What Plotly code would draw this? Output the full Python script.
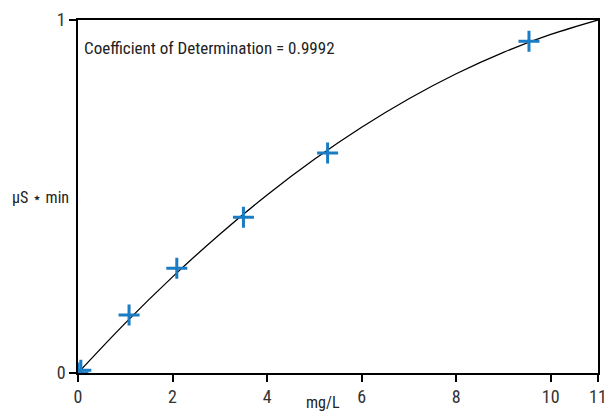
import plotly.graph_objects as go

# calibration points
conc = [0.0, 0.06, 1.08, 2.09, 3.50, 5.28, 9.54]
area = [0.0, 0.008, 0.164, 0.297, 0.441, 0.623, 0.940]

# fitted calibration curve
curve_x = [0, 1, 2, 3, 4, 5, 6, 7, 8, 9, 10, 11]
curve_y = [0.0, 0.1412, 0.2723, 0.3933, 0.5043, 0.6053, 0.6961, 0.7769, 0.8477, 0.9084, 0.9590, 1.0]

x_ticks = [0, 2, 4, 6, 8, 10, 11]
y_ticks = [0, 1]

FONT = "Liberation Sans Narrow, Roboto Condensed, Roboto, sans-serif"

fig = go.Figure()
fig.add_trace(go.Scatter(x=curve_x, y=curve_y, mode="lines",
                         line=dict(color="black", width=1.3, shape="spline"),
                         hoverinfo="skip", showlegend=False))
fig.add_trace(go.Scatter(x=conc, y=area, mode="markers",
                         marker=dict(symbol="cross-thin", size=15,
                                     line=dict(color="#1a7cc3", width=3)),
                         showlegend=False))

axis_common = dict(showgrid=False, zeroline=False, showline=True, linecolor="black",
                   linewidth=1.5, mirror=True, ticks="outside", ticklen=7,
                   tickcolor="black", tickwidth=1.5, automargin=False,
                   ticklabeloverflow="allow",
                   tickfont=dict(family=FONT, size=18, color="#333"))

fig.update_xaxes(range=[0, 11], tickvals=x_ticks, ticktext=[str(v) for v in x_ticks],
                 **axis_common)
fig.update_yaxes(range=[0, 1], tickvals=y_ticks, ticktext=[str(v) for v in y_ticks],
                 **axis_common)

fig.update_layout(
    width=604, height=412,
    margin=dict(l=78, r=6, t=20, b=39),
    plot_bgcolor="white", paper_bgcolor="white",
    font=dict(family=FONT, color="#222"),
    annotations=[
        dict(text="Coefficient of Determination = 0.9992", xref="paper", yref="paper",
             x=0.008, y=0.92, xanchor="left", yanchor="middle", showarrow=False,
             font=dict(family=FONT, size=17, color="#222")),
        dict(text="µS ⋆ min", xref="paper", yref="paper", x=-0.131, y=0.497,
             xanchor="left", yanchor="middle", showarrow=False,
             font=dict(family=FONT, size=16, color="#222")),
        dict(text="mg/L", xref="paper", yref="paper", x=0.471, y=-0.083,
             xanchor="center", yanchor="middle", showarrow=False,
             font=dict(family=FONT, size=16, color="#222")),
    ],
)

fig.write_html("out.html", config={"displayModeBar": False},
               post_script="document.body.style.margin='0px';")
